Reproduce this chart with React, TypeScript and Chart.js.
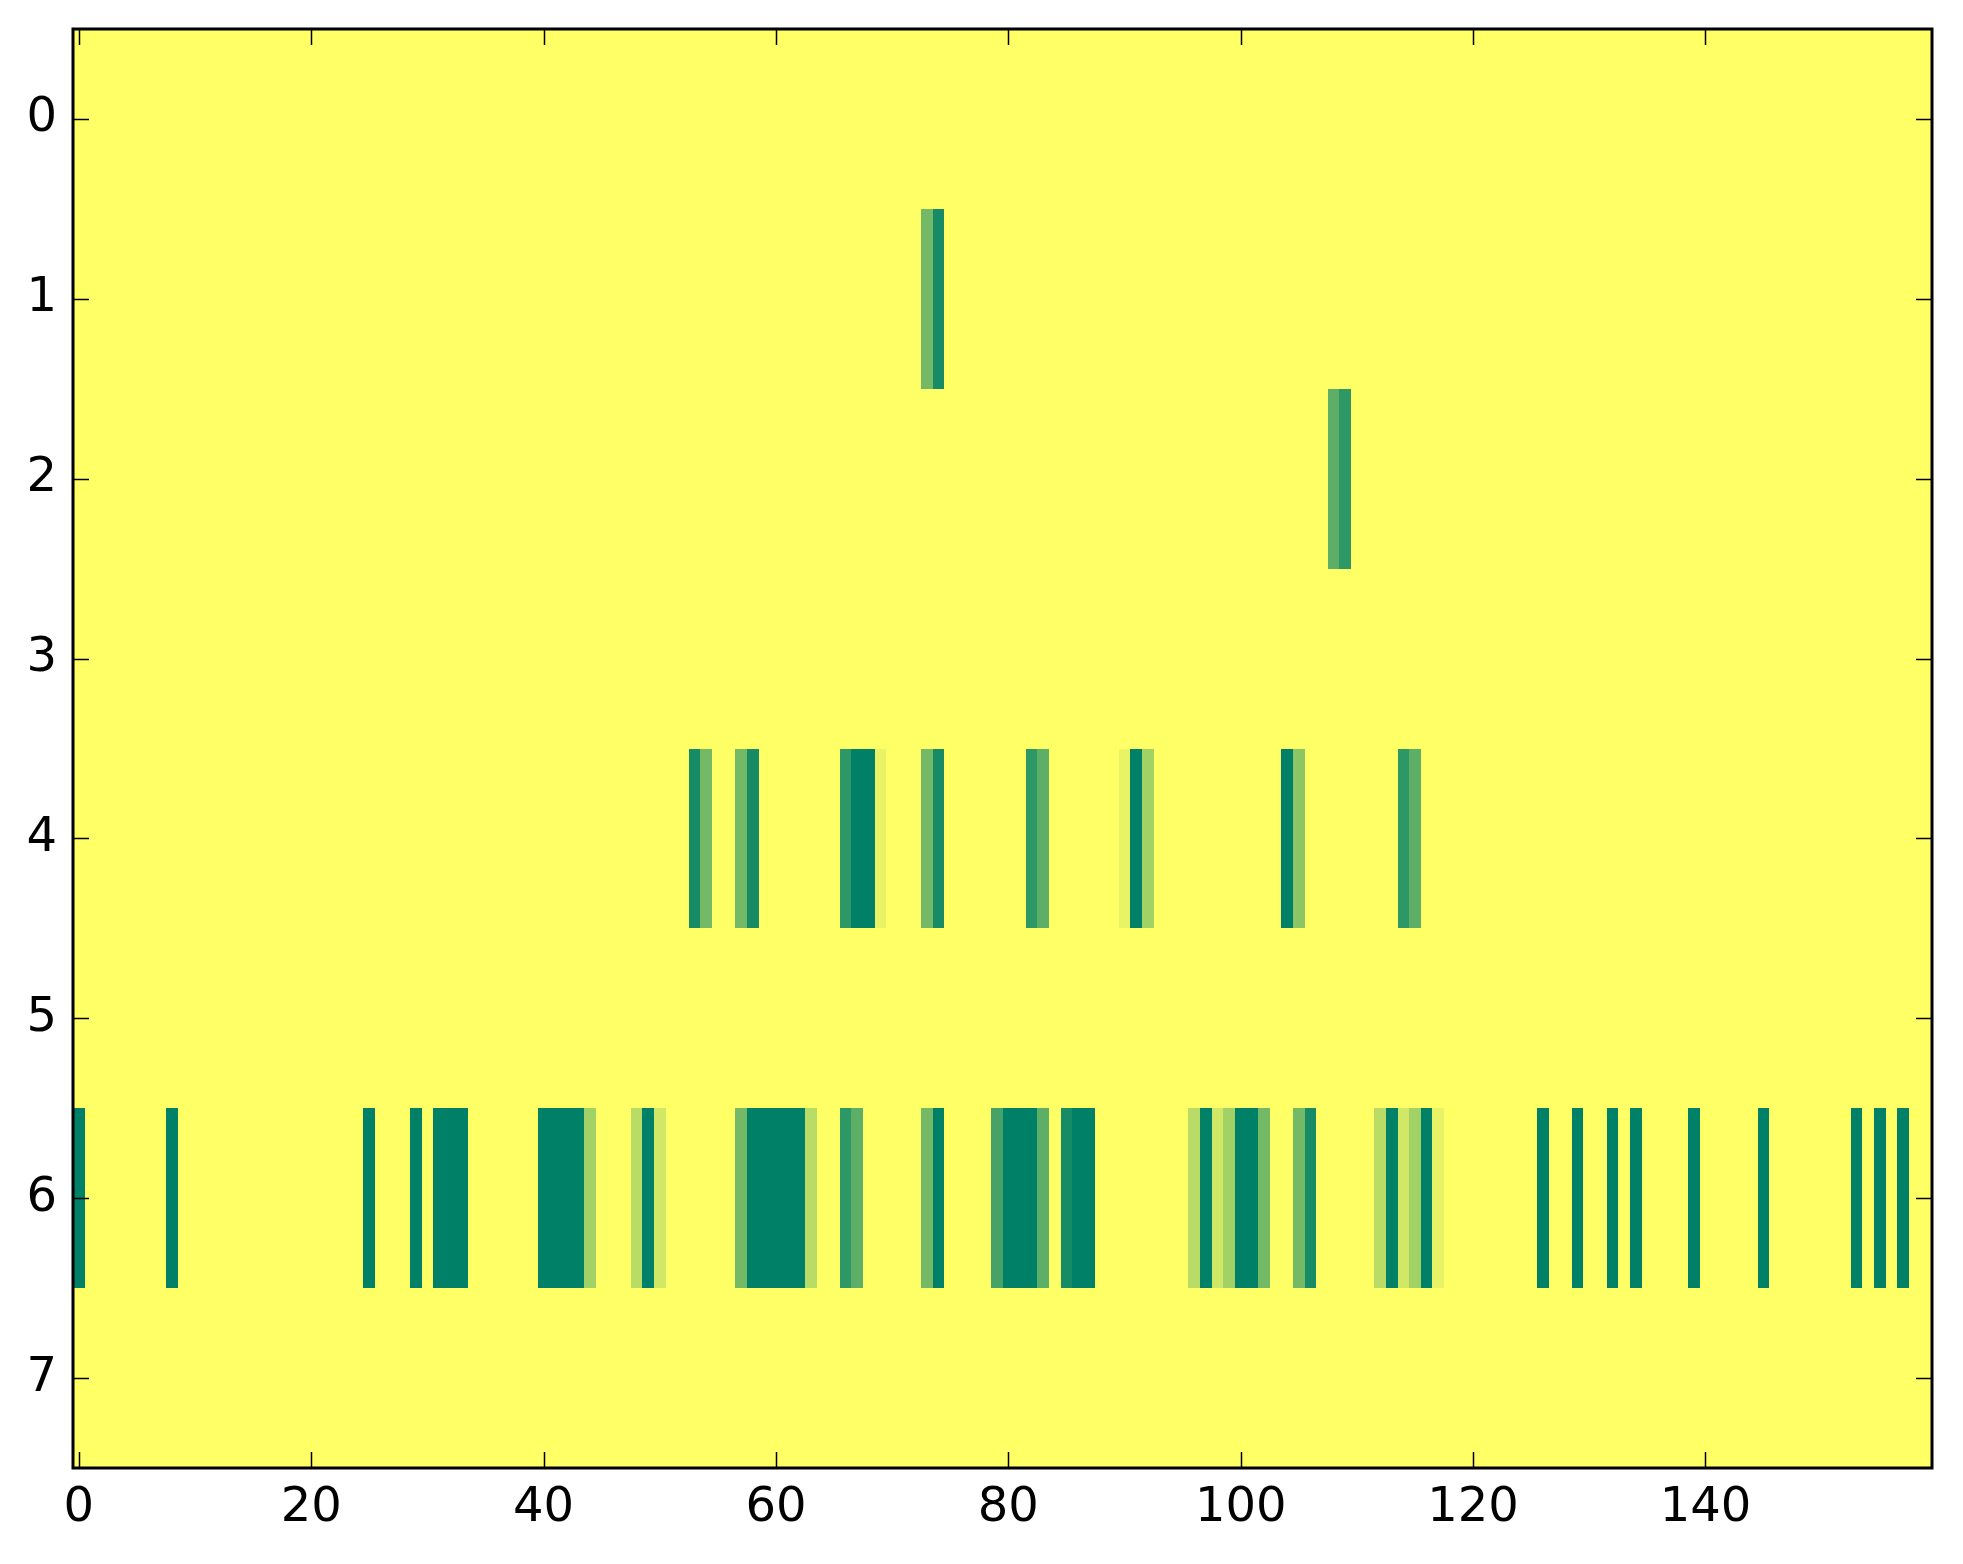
import React, { useEffect, useRef } from "react";
import { Chart, registerables } from "chart.js";

Chart.register(...registerables);

// Heatmap grid: 8 rows x 160 columns, value 0 (yellow) .. 11 (green), summer_r colormap
const nRows = 8;
const nCols = 160;
const vMax = 11;

// Non-zero cells per row as [column, value]
const row1Cells: [number, number][] = [[73, 6], [74, 10]];
const row2Cells: [number, number][] = [[108, 7], [109, 9]];
const row4Cells: [number, number][] = [
  [53, 10], [54, 6], [57, 6], [58, 10], [66, 9], [67, 11], [68, 11], [69, 1],
  [73, 6], [74, 10], [82, 9], [83, 7], [90, 1], [91, 11], [92, 4],
  [104, 11], [105, 5], [114, 9], [115, 7],
];
const row6Cells: [number, number][] = [
  [0, 11], [8, 11], [25, 11], [29, 11], [31, 11], [32, 11], [33, 11],
  [40, 11], [41, 11], [42, 11], [43, 11], [44, 4], [48, 3], [49, 11], [50, 2],
  [57, 6], [58, 11], [59, 11], [60, 11], [61, 11], [62, 11], [63, 3],
  [66, 9], [67, 7], [73, 6], [74, 11], [79, 8], [80, 11], [81, 11], [82, 11], [83, 7],
  [85, 10], [86, 11], [87, 11], [96, 3], [97, 11], [98, 2], [99, 4], [100, 11], [101, 11],
  [102, 6], [105, 6], [106, 10], [112, 3], [113, 11], [114, 2], [115, 4], [116, 11], [117, 1],
  [126, 11], [129, 11], [132, 11], [134, 11], [139, 11], [145, 11], [153, 11], [155, 11], [157, 11],
];
const rowCells: Record<number, [number, number][]> = { 1: row1Cells, 2: row2Cells, 4: row4Cells, 6: row6Cells };

const xTickValues = [0, 20, 40, 60, 80, 100, 120, 140];
const yTickValues = [0, 1, 2, 3, 4, 5, 6, 7];

function summerR(v: number): string {
  const t = 1 - Math.max(0, Math.min(1, v / vMax));
  const r = Math.round(255 * t);
  const g = Math.round(255 * (0.5 + 0.5 * t));
  const b = Math.round(255 * 0.4);
  return `rgb(${r},${g},${b})`;
}

function buildCells() {
  const cells: { x: number; y: number; v: number }[] = [];
  for (let r = 0; r < nRows; r++) {
    const lookup = new Map<number, number>();
    (rowCells[r] || []).forEach(([c, v]) => lookup.set(c, v));
    for (let c = 0; c < nCols; c++) {
      cells.push({ x: c, y: r, v: lookup.get(c) ?? 0 });
    }
  }
  return cells;
}

const heatmapPlugin = {
  id: "heatmapCells",
  beforeDatasetsDraw(chart: any) {
    const ctx = chart.ctx;
    const xs = chart.scales.x;
    const ys = chart.scales.y;
    const data = chart.data.datasets[0].data as { x: number; y: number; v: number }[];
    ctx.save();
    const a = chart.chartArea;
    ctx.beginPath();
    ctx.rect(a.left, a.top, a.right - a.left, a.bottom - a.top);
    ctx.clip();
    for (const d of data) {
      const x0 = Math.round(xs.getPixelForValue(d.x - 0.5));
      const x1 = Math.round(xs.getPixelForValue(d.x + 0.5));
      const y0 = Math.round(ys.getPixelForValue(d.y - 0.5));
      const y1 = Math.round(ys.getPixelForValue(d.y + 0.5));
      ctx.fillStyle = summerR(d.v);
      ctx.fillRect(Math.min(x0, x1), Math.min(y0, y1), Math.abs(x1 - x0), Math.abs(y1 - y0));
    }
    ctx.restore();
  },
  afterDraw(chart: any) {
    const ctx = chart.ctx;
    const xs = chart.scales.x;
    const ys = chart.scales.y;
    const a = chart.chartArea;
    const tl = 16;
    ctx.save();
    ctx.strokeStyle = "#000";
    ctx.lineWidth = 1.5;
    ctx.beginPath();
    for (const v of xTickValues) {
      const px = Math.round(xs.getPixelForValue(v)) + 0.5;
      ctx.moveTo(px, a.bottom);
      ctx.lineTo(px, a.bottom - tl);
      ctx.moveTo(px, a.top);
      ctx.lineTo(px, a.top + tl);
    }
    for (const v of yTickValues) {
      const py = Math.round(ys.getPixelForValue(v)) + 0.5;
      ctx.moveTo(a.left, py);
      ctx.lineTo(a.left + tl, py);
      ctx.moveTo(a.right, py);
      ctx.lineTo(a.right - tl, py);
    }
    ctx.stroke();
    ctx.lineWidth = 3;
    ctx.strokeRect(a.left, a.top, a.right - a.left, a.bottom - a.top);
    ctx.restore();
  },
};

export default function App() {
  const canvasRef = useRef<HTMLCanvasElement | null>(null);

  useEffect(() => {
    document.body.style.margin = "0";
    const canvas = canvasRef.current;
    if (!canvas) return;
    const chart = new Chart(canvas, {
      type: "scatter",
      data: {
        datasets: [
          {
            label: "cells",
            data: buildCells(),
            pointRadius: 0,
            pointHoverRadius: 0,
            showLine: false,
          } as any,
        ],
      },
      options: {
        animation: false,
        responsive: false,
        devicePixelRatio: 1,
        events: [],
        layout: { padding: { top: 29, right: 31, left: 0, bottom: 0 } },
        plugins: { legend: { display: false }, tooltip: { enabled: false } },
        scales: {
          x: {
            type: "linear",
            min: -0.5,
            max: nCols - 0.5,
            grid: { display: false, drawTicks: false },
            border: { display: false },
            afterBuildTicks: (scale: any) => {
              scale.ticks = xTickValues.map((v) => ({ value: v }));
            },
            afterFit: (scale: any) => {
              scale.height = 96;
              scale.paddingLeft = 0;
              scale.paddingRight = 0;
            },
            ticks: {
              padding: 12,
              color: "#000",
              maxRotation: 0,
              autoSkip: false,
              font: { family: "DejaVu Sans", size: 48 },
              callback: (v: any) => String(v),
            },
          },
          y: {
            type: "linear",
            reverse: true,
            min: -0.5,
            max: nRows - 0.5,
            grid: { display: false, drawTicks: false },
            border: { display: false },
            afterBuildTicks: (scale: any) => {
              scale.ticks = yTickValues.map((v) => ({ value: v }));
            },
            afterFit: (scale: any) => {
              scale.width = 73;
              scale.paddingTop = 0;
              scale.paddingBottom = 0;
            },
            ticks: {
              padding: 16,
              color: "#000",
              autoSkip: false,
              font: { family: "DejaVu Sans", size: 48 },
              callback: (v: any) => String(v),
            },
          },
        },
      },
      plugins: [heatmapPlugin],
    });
    return () => chart.destroy();
  }, []);

  return (
    <div style={{ position: "absolute", left: 0, top: 0, width: 1963, height: 1564, background: "#fff" }}>
      <canvas ref={canvasRef} width={1963} height={1564} style={{ width: 1963, height: 1564 }} />
    </div>
  );
}
